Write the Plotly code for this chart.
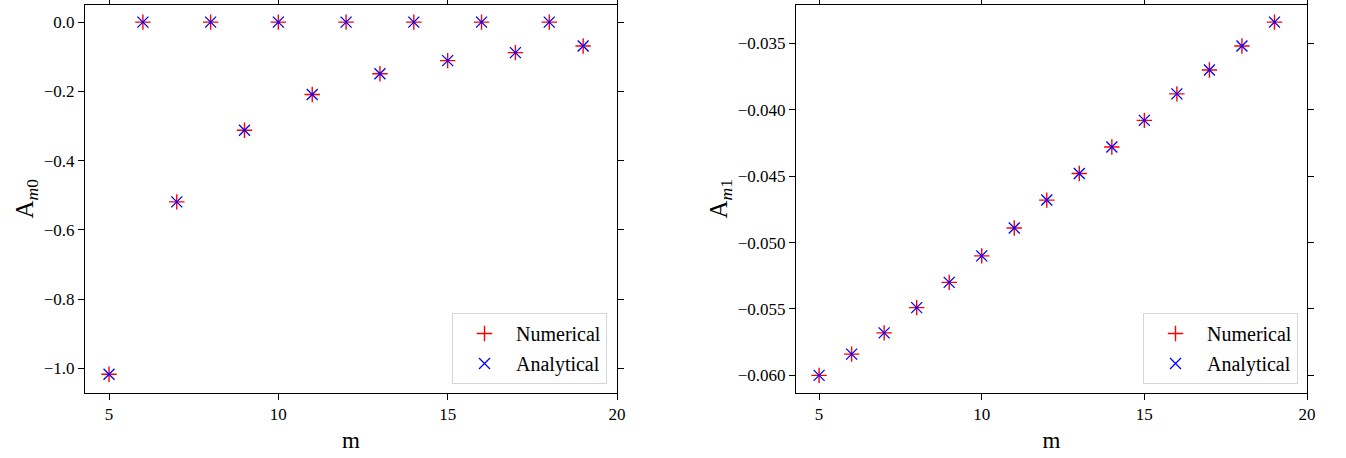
import plotly.graph_objects as go

m_vals = [5, 6, 7, 8, 9, 10, 11, 12, 13, 14, 15, 16, 17, 18, 19]

# A_m0 (left panel)
am0_numerical = [-1.017, 0.0, -0.519, 0.0, -0.312, 0.0, -0.209, 0.0, -0.149, 0.0, -0.111, 0.0, -0.088, 0.0, -0.069]
am0_analytical = [-1.017, 0.0, -0.519, 0.0, -0.312, 0.0, -0.209, 0.0, -0.149, 0.0, -0.111, 0.0, -0.088, 0.0, -0.069]

# A_m1 (right panel)
am1_numerical = [-0.0600, -0.0584, -0.0568, -0.0549, -0.0530, -0.0510, -0.0489, -0.0468, -0.0448, -0.0428,
                 -0.0408, -0.0388, -0.0370, -0.0352, -0.0334]
am1_analytical = [-0.0600, -0.0584, -0.0568, -0.0549, -0.0530, -0.0510, -0.0489, -0.0468, -0.0448, -0.0428,
                  -0.0408, -0.0388, -0.0370, -0.0352, -0.0334]

x_ticks = [5, 10, 15, 20]
y0_ticks = [0.0, -0.2, -0.4, -0.6, -0.8, -1.0]
y0_labels = ["0.0", "\u22120.2", "\u22120.4", "\u22120.6", "\u22120.8", "\u22121.0"]
y1_ticks = [-0.035, -0.040, -0.045, -0.050, -0.055, -0.060]
y1_labels = ["\u22120.035", "\u22120.040", "\u22120.045", "\u22120.050", "\u22120.055", "\u22120.060"]

W, H = 1346, 458
FONT = "Liberation Serif, Times New Roman, serif"

fig = go.Figure()

def add_pair(xa, ya, num, ana, legend, tag):
    fig.add_trace(go.Scatter(
        x=m_vals, y=num, mode="markers", name="Numerical",
        xaxis=xa, yaxis=ya, legend=legend, legendgroup=tag + "n",
        marker=dict(symbol="cross-thin", size=11, color="red",
                    line=dict(color="red", width=1.4))))
    fig.add_trace(go.Scatter(
        x=m_vals, y=ana, mode="markers", name="Analytical",
        xaxis=xa, yaxis=ya, legend=legend, legendgroup=tag + "a",
        marker=dict(symbol="x-thin", size=11, color="blue",
                    line=dict(color="blue", width=1.3))))

add_pair("x", "y", am0_numerical, am0_analytical, "legend", "L")
add_pair("x2", "y2", am1_numerical, am1_analytical, "legend2", "R")

top = 1 - 4.5 / H
bottom = 1 - 393 / H

axis_common = dict(
    showline=True, linecolor="black", linewidth=1, mirror="ticks",
    ticks="outside", ticklen=6, tickwidth=1, tickcolor="black",
    showgrid=False, zeroline=False, automargin=False,
    tickfont=dict(family=FONT, size=17, color="black"),
)

xtitle_font = dict(family=FONT, size=23, color="black")
ytitle_font = dict(family=FONT, size=25, color="black")
legend_common = dict(
    xanchor="right", yanchor="bottom",
    bgcolor="rgba(255,255,255,0.8)", bordercolor="#d6d6d6", borderwidth=1,
    font=dict(family=FONT, size=20, color="black"),
    itemwidth=53, tracegroupgap=1,
)

fig.update_layout(
    width=W, height=H,
    margin=dict(l=0, r=0, t=0, b=0),
    paper_bgcolor="white", plot_bgcolor="white",
    font=dict(family=FONT, color="black"),
    xaxis=dict(domain=[85 / W, 617 / W], range=[4.29, 20], tickvals=x_ticks,
               title=dict(text="m", font=xtitle_font, standoff=8),
               anchor="y", **axis_common),
    yaxis=dict(domain=[bottom, top], range=[-1.071, 0.051], tickvals=y0_ticks, ticktext=y0_labels,
               title=dict(text="A<sub><i>m</i>0</sub>", font=ytitle_font, standoff=3),
               anchor="x", **axis_common),
    xaxis2=dict(domain=[796 / W, 1307 / W], range=[4.29, 20], tickvals=x_ticks,
                title=dict(text="m", font=xtitle_font, standoff=8),
                anchor="y2", **axis_common),
    yaxis2=dict(domain=[bottom, top], range=[-0.06133, -0.03207], tickvals=y1_ticks, ticktext=y1_labels,
                title=dict(text="A<sub><i>m</i>1</sub>", font=ytitle_font, standoff=3),
                anchor="x2", **axis_common),
    legend=dict(x=607 / W, y=1 - 384 / H, **legend_common),
    legend2=dict(x=1298 / W, y=1 - 384 / H, **legend_common),
)

fig.write_html("out.html", config={"displayModeBar": False},
               post_script="document.body.style.margin='0px';document.body.style.overflow='hidden';")
